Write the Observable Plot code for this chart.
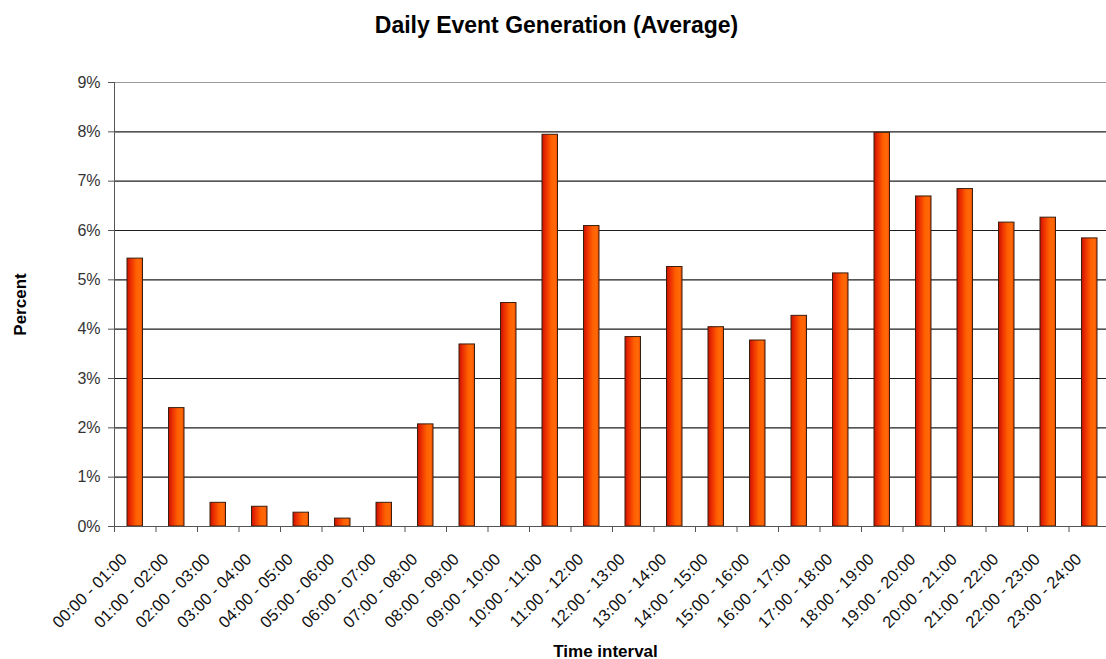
<!DOCTYPE html>
<html><head><meta charset="utf-8">
<script src="https://cdn.jsdelivr.net/npm/d3@7"></script>
<script src="https://cdn.jsdelivr.net/npm/@observablehq/plot@0.6"></script>
<style>
html,body{margin:0;padding:0;background:#fff;overflow:hidden;}
#chart svg{display:block;}
</style></head><body><div id="chart"></div>
<script>
const categories = ["00:00 - 01:00","01:00 - 02:00","02:00 - 03:00","03:00 - 04:00","04:00 - 05:00","05:00 - 06:00",
  "06:00 - 07:00","07:00 - 08:00","08:00 - 09:00","09:00 - 10:00","10:00 - 11:00","11:00 - 12:00",
  "12:00 - 13:00","13:00 - 14:00","14:00 - 15:00","15:00 - 16:00","16:00 - 17:00","17:00 - 18:00",
  "18:00 - 19:00","19:00 - 20:00","20:00 - 21:00","21:00 - 22:00","22:00 - 23:00","23:00 - 24:00"];
const values = [5.43, 2.40, 0.48, 0.40, 0.28, 0.16, 0.48, 2.07, 3.69, 4.53, 7.94, 6.09,
  3.84, 5.26, 4.04, 3.77, 4.27, 5.13, 7.98, 6.69, 6.84, 6.16, 6.26, 5.84];
const yTicks = [0,1,2,3,4,5,6,7,8,9];
const title = "Daily Event Generation (Average)";
const xTitle = "Time interval";
const yTitle = "Percent";

const data = categories.map((c,i)=>({label:c, index:i, value:values[i]}));
const boundaries = d3.range(categories.length+1);

const gradientDefs = () => {
  const d = d3.create("svg:defs");
  const g = d.append("linearGradient").attr("id","barGrad")
    .attr("x1",0).attr("x2",1).attr("y1",0).attr("y2",0);
  [[0,"#c81000"],[0.25,"#ec3000"],[0.6,"#ff6000"],[0.85,"#ff6a08"],[1,"#e84400"]]
    .forEach(([o,c])=>g.append("stop").attr("offset",o).attr("stop-color",c));
  return d.node();
};

const font = '"Liberation Sans", Arial, Helvetica, sans-serif';

const chart = Plot.plot({
  width:1106, height:659,
  marginTop:82, marginBottom:133, marginLeft:114, marginRight:0,
  style:{fontFamily:font, background:"#fff"},
  x:{domain:[0,24], range:[114,1110], axis:null},
  y:{domain:[0,9], axis:null},
  marks:[
    gradientDefs,
    Plot.ruleY(yTicks.filter(d=>d>0 && d<9), {stroke:"#1e1e1e", strokeWidth:1.2}),
    Plot.ruleY([9], {stroke:"#9a9a9a"}),
    Plot.rectY(data, {x1:"index", x2:d=>d.index+1, y:"value", insetLeft:13, insetRight:13,
      fill:"url(#barGrad)", stroke:"#3b1e0e", strokeWidth:1}),
    Plot.ruleY([0], {stroke:"#555"}),
    Plot.ruleX([0], {stroke:"#555"}),
    Plot.axisY({ticks:yTicks, tickFormat:d=>d+"%", tickSize:6, tickPadding:8, fontSize:16,
      fill:"#333", stroke:"#555", label:null}),
    Plot.axisX({ticks:boundaries, tickFormat:()=>"", tickSize:6, stroke:"#555", label:null}),
    Plot.text(data, {x:d=>d.index+0.5, y:0, text:"label", rotate:-45, textAnchor:"end",
      dx:-11, dy:30, fontSize:16.5, fill:"#111"}),
    Plot.text([title], {frameAnchor:"top-left", dx:442, dy:-50, textAnchor:"middle",
      lineAnchor:"bottom", fontSize:23, fontWeight:"bold", fill:"#000"}),
    Plot.text([xTitle], {frameAnchor:"bottom-left", dx:491, dy:130, textAnchor:"middle",
      lineAnchor:"bottom", fontSize:17, fontWeight:"bold", fill:"#000"}),
    Plot.text([yTitle], {frameAnchor:"left", dx:-89, rotate:-90, textAnchor:"middle",
      lineAnchor:"bottom", fontSize:17, fontWeight:"bold", fill:"#000"})
  ]
});
document.getElementById("chart").appendChild(chart);
</script></body></html>
